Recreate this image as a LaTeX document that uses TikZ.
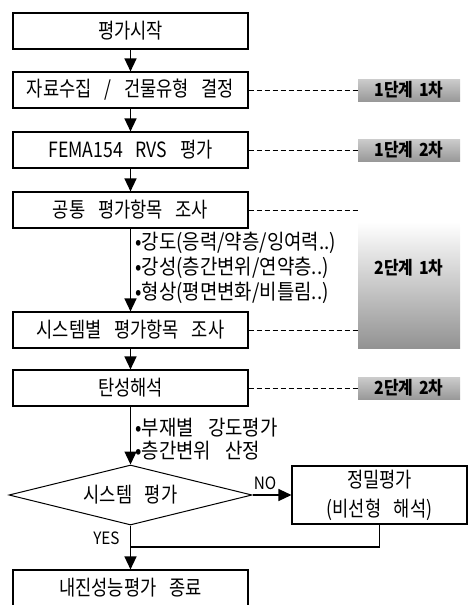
\documentclass[tikz,border=0pt]{standalone}
\usepackage{fontspec}
\usetikzlibrary{arrows.meta,shapes.geometric,calc}
\newfontfamily\kr[FakeStretch=0.84,WordSpace=3.2]{Noto Sans CJK KR}
\newfontfamily\krn[FakeStretch=0.9,WordSpace=3.4]{Noto Sans CJK KR}
\newfontfamily\krt[FakeStretch=0.88,WordSpace=1.6]{Noto Sans CJK KR}
\newcommand\boxfont{\kr\fontsize{21}{29}\selectfont}
\newcommand\notefont{\krn\fontsize{21}{22}\selectfont}
\newcommand\tagfont{\krt\bfseries\fontsize{18}{20}\selectfont}
\newcommand\ynfont{\krn\fontsize{17}{18}\selectfont}
\begin{document}
\begin{tikzpicture}[x=1pt,y=-1pt,
  proc/.style={draw, line width=1.1pt, minimum width=235pt, minimum height=36pt, inner sep=0pt, font=\boxfont},
  flow/.style={line width=1.3pt, -{Triangle[width=12pt,length=13pt]}},
  plain/.style={line width=1.2pt},
  link/.style={line width=0.9pt, dash pattern=on 5pt off 3pt},
  tag/.style={inner sep=0pt, minimum width=102pt, minimum height=22pt, top color=gray!40, bottom color=gray!80, font=\tagfont},
  note/.style={anchor=west, inner sep=0pt, font=\notefont},
  decision/.style={diamond, draw, line width=1pt, minimum width=243pt, minimum height=60pt, inner sep=0pt, aspect=4}]
\useasboundingbox (0,0) rectangle (469,605);

% main column
\node[proc] (b1) at (130.5,31) {평가시작};
\node[proc] (b2) at (130.5,90) {자료수집 / 건물유형 결정};
\node[proc] (b3) at (130.5,150) {FEMA154 RVS 평가};
\node[proc] (b4) at (130.5,210) {공통 평가항목 조사};
\node[proc] (b5) at (130.5,330) {시스템별 평가항목 조사};
\node[proc] (b6) at (130.5,388) {탄성해석};
\node[decision, label={[font=\boxfont]center:시스템 평가}] (dia) at (130.5,495) {};
\node[proc, minimum width=175pt, minimum height=58pt, align=center] (b7) at (379.5,495) {정밀평가\\(비선형 해석)};
\node[proc] (b8) at (130.5,588) {내진성능평가 종료};
\coordinate (m) at (130.5,547);

% notes
\node[note] (n1) at (135,243) {•강도(응력/약층/잉여력..)};
\node[note] (n2) at (135,268) {•강성(층간변위/연약층..)};
\node[note] (n3) at (135,293) {•형상(평면변화/비틀림..)};
\node[note] (n4) at (135,428) {•부재별 강도평가};
\node[note] (n5) at (135,451) {•층간변위 산정};

% stage tags
\node[tag] (t1) at (409,90) {1단계 1차};
\node[tag] (t2) at (409,150) {1단계 2차};
\node[tag, minimum height=126pt, top color=white, bottom color=gray!85] (blk) at (409,285) {};
\node[inner sep=0pt, font=\tagfont] (t3) at (409,268) {2단계 1차};
\node[tag] (t4) at (409,388) {2단계 2차};
\coordinate (e4) at (358,210);

% connectors
\draw[flow] (b1) -- (b2);
\draw[flow] (b2) -- (b3);
\draw[flow] (b3) -- (b4);
\draw[flow] (b4) -- (b5);
\draw[flow] (b5) -- (b6);
\draw[flow] (b6) -- (dia.north);
\draw[flow] (dia.east) -- node[pos=0.32, above=1pt, font=\ynfont] {NO} (b7.west);
\draw[flow] (dia.south) -- node[pos=0.3, left=7pt, font=\ynfont] {YES} (b8.north);
\draw[plain] (b7.south) |- (m);

% dashed links
\draw[link] (b2.east) -- (t1.west);
\draw[link] (b3.east) -- (t2.west);
\draw[link] (b4.east) -- (e4);
\draw[link] (b5.east) -- (b5.east -| blk.west);
\draw[link] (b6.east) -- (t4.west);
\end{tikzpicture}
\end{document}
